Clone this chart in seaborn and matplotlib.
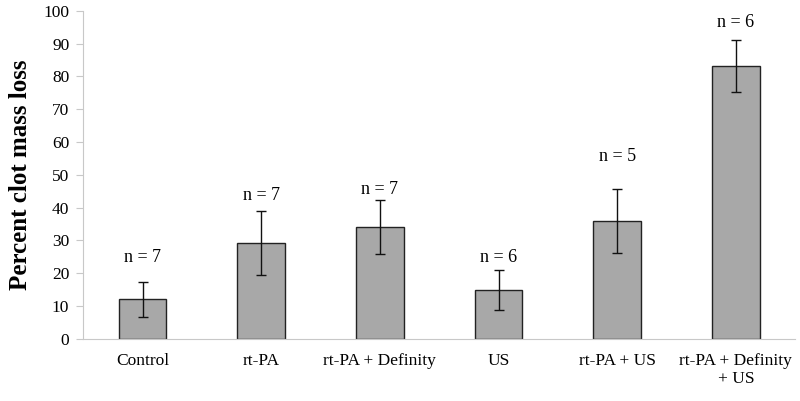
import matplotlib
matplotlib.use("Agg")
import matplotlib.pyplot as plt
import numpy as np
import pandas as pd
import seaborn as sns

groups = ["Control", "rt-PA", "rt-PA + Definity", "US", "rt-PA + US",
          "rt-PA + Definity\n+ US"]
mass_loss = [12.0, 29.3, 34.1, 14.9, 35.9, 83.2]
err = [5.3, 9.8, 8.3, 6.2, 9.8, 8.0]
n_counts = [7, 7, 7, 6, 5, 6]
n_label_y = [24.7, 43.6, 45.4, 24.7, 55.5, 96.5]

sns.set_theme(style="white")
plt.rcParams["font.family"] = ["Liberation Serif", "DejaVu Serif"]
plt.rcParams["text.color"] = "black"
plt.rcParams["axes.labelcolor"] = "black"
plt.rcParams["xtick.labelcolor"] = "black"
plt.rcParams["ytick.labelcolor"] = "black"

df = pd.DataFrame({"group": groups, "loss": mass_loss})

fig = plt.figure(figsize=(8, 4.01), dpi=100)
ax = fig.add_axes([0.104, 0.155, 0.89, 0.818])
sns.barplot(data=df, x="group", y="loss", ax=ax, color="#a8a8a8",
            saturation=1, width=0.4, edgecolor="#222222", linewidth=1)
x = np.arange(len(groups))
ax.errorbar(x, mass_loss, yerr=err, fmt="none", ecolor="#111111",
            elinewidth=1, capsize=3.5, capthick=1)
for xi, yi, n in zip(x, n_label_y, n_counts):
    ax.text(xi, yi, f"n = {n}", ha="center", va="center", fontsize=13)

ax.set_ylim(0, 100)
ax.set_xlim(-0.5, len(groups) - 0.5)
ax.set_yticks(range(0, 101, 10))
ax.set_xticks(np.arange(-0.5, len(groups)), minor=True)
ax.tick_params(axis="x", which="major", length=0, labelsize=12.5, pad=10)
ax.tick_params(axis="x", which="minor", length=5, color="#c8c8c8",
               direction="out", width=0.8)
ax.tick_params(axis="y", length=5, color="#c8c8c8", labelsize=12.5, pad=5,
               width=0.8, left=True)
ax.set_xlabel("")
ax.set_ylabel("Percent clot mass loss", fontsize=18, fontweight="bold",
              labelpad=8)
for s in ["top", "right"]:
    ax.spines[s].set_visible(False)
for s in ["left", "bottom"]:
    ax.spines[s].set_color("#c8c8c8")
    ax.spines[s].set_linewidth(0.8)

fig.savefig("out.png", dpi=100)
